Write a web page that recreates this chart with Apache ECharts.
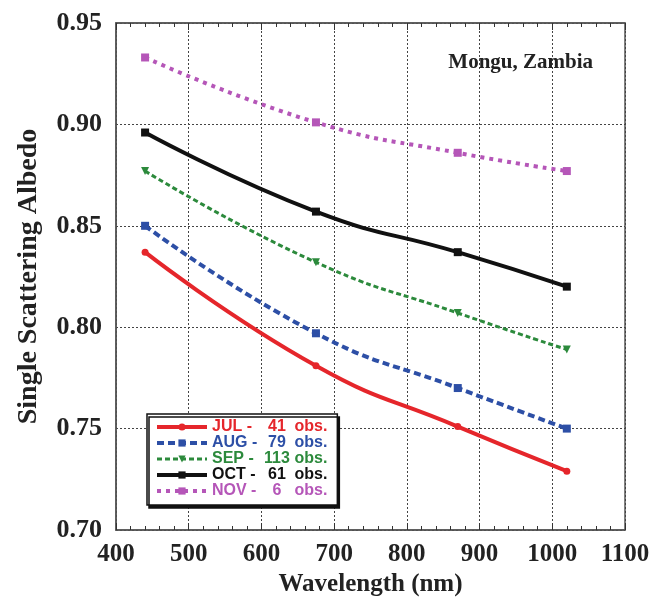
<!DOCTYPE html>
<html lang="en">
<head>
    <meta charset="UTF-8">
    <title>Single Scattering Albedo - Mongu, Zambia</title>
</head>
<body style="margin:0">
<div style="width: 661px;height: 610px;" id="chart"></div>
</body>
<script src="https://cdn.jsdelivr.net/npm/echarts@6/dist/echarts.min.js"></script>
<script type="text/javascript">
  // wavelengths of the observations (nm)
  const wavelengths = [440, 675, 870, 1020];

  // monthly mean single scattering albedo
  const jul = [0.837, 0.781, 0.751, 0.729];
  const aug = [0.850, 0.797, 0.770, 0.750];
  const sep = [0.877, 0.832, 0.807, 0.789];
  const oct = [0.896, 0.857, 0.837, 0.820];
  const nov = [0.933, 0.901, 0.886, 0.877];

  const months = ['JUL', 'AUG', 'SEP', 'OCT', 'NOV'];
  const obsCounts = ['41', '79', '113', '61', '6'];

  const xTicks = [400, 500, 600, 700, 800, 900, 1000, 1100];
  const yTicks = [0.70, 0.75, 0.80, 0.85, 0.90, 0.95];

  const serif = '"Liberation Serif", "DejaVu Serif", serif';
  const sans = '"Liberation Sans", Arial, sans-serif';

  function pairs(values) {
    return wavelengths.map((w, i) => [w, values[i]]);
  }

  const styles = {
    JUL: {color: '#e5262b', symbol: 'circle', size: 7, type: 'solid', width: 4},
    AUG: {color: '#2d4fa6', symbol: 'rect', size: 8, type: [7, 4], width: 4},
    SEP: {color: '#2c8a3c', symbol: 'triangle', size: 8, type: [5, 3], width: 3, rotate: 180},
    OCT: {color: '#111111', symbol: 'rect', size: 8, type: 'solid', width: 4},
    NOV: {color: '#b556b8', symbol: 'rect', size: 8, type: [4, 5], width: 4},
  };
  const dataByMonth = {JUL: jul, AUG: aug, SEP: sep, OCT: oct, NOV: nov};

  const series = months.map(m => {
    const s = styles[m];
    return {
      name: m,
      type: 'line',
      data: pairs(dataByMonth[m]),
      smooth: 0.5,
      symbol: s.symbol,
      symbolSize: s.size,
      symbolRotate: s.rotate || 0,
      showAllSymbol: true,
      itemStyle: {color: s.color},
      lineStyle: {color: s.color, width: s.width, type: s.type, cap: 'butt'},
      z: 3,
    };
  });

  const legendData = months.map(m => ({
    name: m,
    textStyle: {color: styles[m].color},
    lineStyle: {width: styles[m].width, color: styles[m].color, type: styles[m].type},
  }));

  const option = {
    animation: false,
    backgroundColor: '#ffffff',
    title: {
      text: 'Mongu, Zambia',
      right: 63,
      top: 47,
      textStyle: {fontFamily: serif, fontSize: 21, fontWeight: 'bold', color: '#222'},
    },
    grid: {
      left: 116, right: 36, top: 23, bottom: 80,
      show: true, borderColor: '#555', borderWidth: 1.5,
    },
    legend: {
      orient: 'vertical',
      left: 147,
      top: 414,
      padding: [5, 10, 6, 8],
      itemGap: 0,
      itemWidth: 50,
      itemHeight: 9,
      backgroundColor: '#ffffff',
      borderColor: '#111',
      borderWidth: 1.5,
      shadowColor: '#111',
      shadowBlur: 0,
      shadowOffsetX: 2,
      shadowOffsetY: 3,
      data: legendData,
      formatter: function(name) {
        const i = months.indexOf(name);
        return '{a|' + name + ' -}{b|' + obsCounts[i] + '}{c| obs.}';
      },
      textStyle: {
        fontFamily: sans,
        fontSize: 16,
        fontWeight: 'bold',
        lineHeight: 15,
        rich: {
          a: {width: 52, fontFamily: sans, fontSize: 16, fontWeight: 'bold'},
          b: {width: 26, align: 'right', fontFamily: sans, fontSize: 16, fontWeight: 'bold'},
          c: {fontFamily: sans, fontSize: 16, fontWeight: 'bold'},
        },
      },
    },
    xAxis: [{
      type: 'value',
      min: 400,
      max: 1100,
      interval: 100,
      name: 'Wavelength (nm)',
      nameLocation: 'middle',
      nameGap: 33,
      nameTextStyle: {fontFamily: serif, fontSize: 25, fontWeight: 'bold', color: '#222'},
      axisLine: {show: true, lineStyle: {color: '#555', width: 1.5}},
      axisTick: {inside: true, length: 7, lineStyle: {color: '#333'}},
      minorTick: {show: true, splitNumber: 5, length: 4, lineStyle: {color: '#333'}},
      axisLabel: {
        fontFamily: serif, fontSize: 25, fontWeight: 'bold', color: '#222', margin: 12,
        formatter: v => xTicks.includes(v) ? String(v) : '',
      },
      splitLine: {show: true, lineStyle: {color: '#444', type: [2, 2], width: 1}},
    }, {
      type: 'value',
      position: 'top',
      min: 400,
      max: 1100,
      interval: 100,
      axisLine: {show: true, lineStyle: {color: '#555', width: 1.5}},
      axisTick: {inside: true, length: 7, lineStyle: {color: '#333'}},
      minorTick: {show: true, splitNumber: 5, length: 4, lineStyle: {color: '#333'}},
      axisLabel: {show: false},
      splitLine: {show: false},
    }],
    yAxis: {
      type: 'value',
      min: 0.70,
      max: 0.95,
      interval: 0.05,
      name: 'Single Scattering Albedo',
      nameLocation: 'middle',
      nameGap: 73,
      nameTextStyle: {fontFamily: serif, fontSize: 28, fontWeight: 'bold', color: '#222'},
      axisLine: {show: true, lineStyle: {color: '#555', width: 1.5}},
      axisTick: {show: false},
      axisLabel: {
        fontFamily: serif, fontSize: 26, fontWeight: 'bold', color: '#222', margin: 14,
        formatter: v => yTicks.some(t => Math.abs(t - v) < 1e-9) ? v.toFixed(2) : '',
      },
      splitLine: {show: true, lineStyle: {color: '#444', type: [2, 2], width: 1}},
    },
    series: series,
  };

  const chart = echarts.init(document.getElementById('chart'));
  chart.setOption(option);
</script>
</html>
